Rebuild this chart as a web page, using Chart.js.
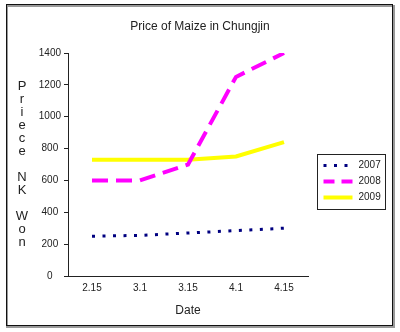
<!DOCTYPE html>
<html>
<head>
<meta charset="utf-8">
<script src="https://cdn.jsdelivr.net/npm/chart.js@4"></script>
<style>
    html, body { margin: 0; padding: 0; background: #fff; }
    #wrap { width: 400px; height: 332px; position: relative; }
</style>
</head>
<body>
<div id="wrap"><canvas id="chart" width="400" height="332"></canvas></div>
<script>
// chart data
const dates = ['2.15', '3.1', '3.15', '4.1', '4.15'];
const seriesNames = ['2007', '2008', '2009'];
const price2007 = [250, 255, 270, 285, 300];
const price2008 = [600, 600, 700, 1250, 1400];
const price2009 = [730, 730, 730, 750, 840];
const yTicks = [0, 200, 400, 600, 800, 1000, 1200, 1400];
const chartTitle = 'Price of Maize in Chungjin';
const yTitle = 'Priece NK Won';

const FONT = '"Liberation Sans", Arial, sans-serif';
const TEXT = '#222';

// outer frame + centred title
const framePlugin = {
    id: 'frame',
    beforeDraw(chart) {
        const ctx = chart.ctx;
        ctx.save();
        ctx.fillStyle = '#fff';
        ctx.fillRect(0, 0, chart.width, chart.height);
        ctx.strokeStyle = '#999';
        ctx.lineWidth = 2;
        ctx.strokeRect(7, 6, 387, 321);
        ctx.strokeStyle = '#111';
        ctx.lineWidth = 1;
        ctx.strokeRect(6.5, 4.5, 386, 321);

        ctx.font = '12px ' + FONT;
        ctx.fillStyle = TEXT;
        ctx.textAlign = 'center';
        ctx.textBaseline = 'middle';
        ctx.fillText(chartTitle, 200, 27);
        ctx.restore();
    }
};

// stacked letters for the y title
const yTitlePlugin = {
    id: 'yTitleStack',
    afterDraw(chart) {
        const ctx = chart.ctx;
        const words = yTitle.split(' ');
        const lines = [];
        words.forEach((w, i) => {
            if (i > 0) lines.push('');
            w.split('').forEach(c => lines.push(c));
        });
        const step = 13;
        const a = chart.chartArea;
        const mid = (a.top + a.bottom) / 2;
        const start = mid - (lines.length - 1) * step / 2;
        ctx.save();
        ctx.font = '13px ' + FONT;
        ctx.fillStyle = TEXT;
        ctx.textAlign = 'center';
        ctx.textBaseline = 'middle';
        lines.forEach((c, i) => {
            if (c) ctx.fillText(c, 22, start + i * step);
        });
        ctx.restore();
    }
};

// boxed legend at the right
const legendPlugin = {
    id: 'boxLegend',
    afterDraw(chart) {
        const ctx = chart.ctx;
        const x = 317.5, y = 154.5, w = 68, h = 55;
        ctx.save();
        ctx.fillStyle = '#fff';
        ctx.fillRect(x, y, w, h);
        ctx.strokeStyle = '#222';
        ctx.lineWidth = 1;
        ctx.strokeRect(x, y, w, h);
        ctx.font = '10px ' + FONT;
        ctx.textBaseline = 'middle';
        chart.data.datasets.forEach((ds, i) => {
            const ly = y + 11 + i * 16;
            ctx.beginPath();
            ctx.strokeStyle = ds.borderColor;
            ctx.lineWidth = ds.borderWidth;
            ctx.setLineDash(ds.legendDash || []);
            ctx.moveTo(x + 6, ly);
            ctx.lineTo(x + 35, ly);
            ctx.stroke();
            ctx.setLineDash([]);
            ctx.fillStyle = TEXT;
            ctx.fillText(ds.label, x + 41, ly);
        });
        ctx.restore();
    }
};

new Chart(document.getElementById('chart'), {
    type: 'line',
    data: {
        labels: dates,
        datasets: [
            {
                label: seriesNames[0],
                data: price2007,
                borderColor: '#000080',
                borderWidth: 3,
                borderDash: [3, 7.5],
                legendDash: [3, 7.5],
                pointRadius: 0,
                tension: 0
            },
            {
                label: seriesNames[1],
                data: price2008,
                borderColor: '#ff00ff',
                borderWidth: 4,
                borderDash: [16, 8],
                legendDash: [11, 7],
                pointRadius: 0,
                tension: 0
            },
            {
                label: seriesNames[2],
                data: price2009,
                borderColor: '#ffff00',
                borderWidth: 4,
                pointRadius: 0,
                tension: 0
            }
        ]
    },
    options: {
        responsive: false,
        animation: false,
        layout: { padding: { left: 28, right: 92, top: 53, bottom: 14 } },
        plugins: {
            legend: { display: false },
            tooltip: { enabled: false },
            title: { display: false }
        },
        scales: {
            x: {
                offset: true,
                grid: { display: false, drawTicks: false },
                border: { display: true, color: '#222', width: 1 },
                ticks: { color: TEXT, font: { family: FONT, size: 10 }, padding: 6, maxRotation: 0 },
                title: {
                    display: true,
                    text: 'Date',
                    color: TEXT,
                    font: { family: FONT, size: 12 },
                    padding: { top: 0, bottom: 0 }
                },
                afterFit(scale) { scale.height = 42; }
            },
            y: {
                min: 0,
                max: 1400,
                afterBuildTicks(scale) { scale.ticks = yTicks.map(v => ({ value: v })); },
                grid: { drawOnChartArea: false, drawTicks: true, tickLength: 4, color: '#222' },
                border: { display: true, color: '#222', width: 1 },
                ticks: {
                    color: TEXT,
                    font: { family: FONT, size: 10 },
                    padding: 3,
                    crossAlign: 'center',
                    callback: v => String(v)
                },
                afterFit(scale) { scale.width = 40; }
            }
        }
    },
    plugins: [framePlugin, yTitlePlugin, legendPlugin]
});
</script>
</body>
</html>
